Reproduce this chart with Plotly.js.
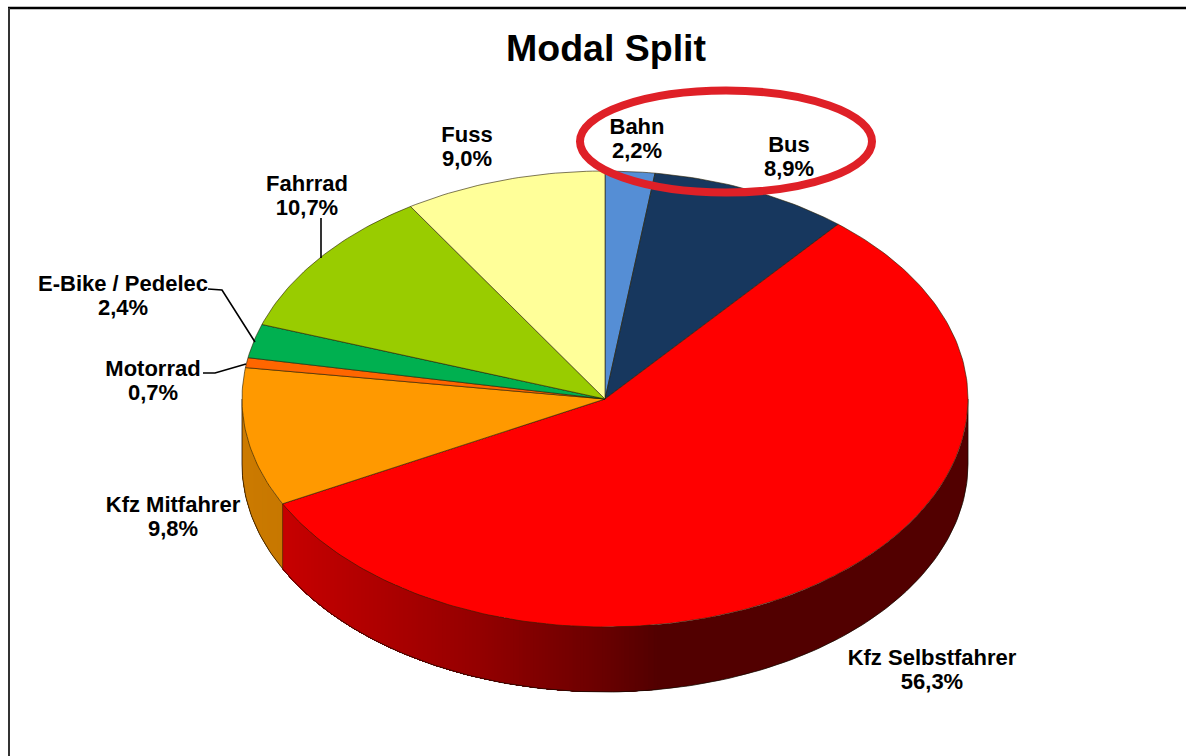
<!DOCTYPE html>
<html>
<head>
<meta charset="utf-8">
<script src="https://cdn.plot.ly/plotly-3.0.1.min.js"></script>
<style>html,body{margin:0;padding:0;background:#fff;overflow:hidden}#chart{width:1186px;height:756px}</style>
</head>
<body>
<div id="chart"></div>
<script>
// Data (clockwise from 12 o'clock)
const categories = ["Bahn","Bus","Kfz Selbstfahrer","Kfz Mitfahrer","Motorrad","E-Bike / Pedelec","Fahrrad","Fuss"];
const shares = [2.2,8.9,56.3,9.8,0.7,2.4,10.7,9.0];
const colors = ["#558ED5","#17375E","#FF0000","#FF9900","#FF6600","#00B050","#99CC00","#FFFF99"];

// Geometry of the tilted disc, in page pixels
const CX=605, CY=399, RX=363, RY=228, DEPTH=65;
const labelX=[637,789,932,173,153,123,307,467];
const labelY=[128,146,659,506,370,285,185,136];
const LINE=24;
const FONT="'Liberation Sans', Arial, sans-serif";

// axes are set so 1 unit = 1 px, y measured upward from the page bottom
const ux=p=>p, uy=p=>756-p;
const ex=t=>CX+RX*Math.sin(t), ey=(t,d=0)=>CY-RY*Math.cos(t)+d;

function rgb(hex,m){
  const n=parseInt(hex.slice(1),16);
  return `rgb(${Math.round((n>>16&255)*m)},${Math.round((n>>8&255)*m)},${Math.round((n&255)*m)})`;
}
const shadeStops=[[242,0.80],[283,0.78],[480,0.58],[600,0.42],[660,0.32],[968,0.32]];
function shade(x){
  for(let i=1;i<shadeStops.length;i++){
    const [a,ma]=shadeStops[i-1],[b,mb]=shadeStops[i];
    if(x<=b) return ma+(mb-ma)*(x-a)/(b-a);
  }
  return 0.32;
}
const traces=[], tops=[], sideEdges=[];
let acc=0;
const STEP=Math.PI/720;
categories.forEach((name,i)=>{
  const start=acc/100*2*Math.PI; acc+=shares[i]; const end=acc/100*2*Math.PI;
  // side wall: only the front half of the disc is visible
  const a=Math.max(start,Math.PI/2), b=Math.min(end,Math.PI*1.5);
  if(b>a){
    const n=Math.max(1,Math.ceil((b-a)/STEP));
    let last=null;
    for(let k=0;k<n;k++){
      const t1=a+(b-a)*k/n;
      const c=rgb(colors[i],shade(ex(t1)));
      if(c===last) continue;
      last=c;
      // each colour band runs to the end of the wall; the next band paints over it, so no seams
      const tx=[],ty=[],bx=[],by=[];
      const m=Math.max(2,Math.ceil((b-t1)/(Math.PI/180)));
      for(let j=0;j<=m;j++){
        const t=t1+(b-t1)*j/m;
        tx.push(ex(t));ty.push(ey(t));bx.push(ex(t));by.push(ey(t,DEPTH));
      }
      traces.push({type:"scatter",mode:"none",fill:"toself",fillcolor:c,hoverinfo:"skip",
        x:[...tx,...bx.reverse(),tx[0]].map(ux),
        y:[...ty,...by.reverse(),ty[0]].map(uy)});
    }
    // outline of the side wall
    const ox=[],oy=[];
    const q=Math.ceil((b-a)/(Math.PI/180));
    for(let k=0;k<=q;k++){const t=a+(b-a)*k/q;ox.push(ux(ex(t)));oy.push(uy(ey(t,DEPTH)));}
    sideEdges.push({type:"scatter",mode:"lines",line:{color:"rgba(20,10,0,0.75)",width:1},hoverinfo:"skip",x:ox,y:oy});
  }
  // top face
  const xs=[CX],ys=[CY];
  const m=Math.max(4,Math.ceil((end-start)/(Math.PI/180)));
  for(let k=0;k<=m;k++){const t=start+(end-start)*k/m;xs.push(ex(t));ys.push(ey(t));}
  xs.push(CX);ys.push(CY);
  tops.push({type:"scatter",mode:"lines",fill:"toself",fillcolor:colors[i],
    line:{color:"rgba(40,30,0,0.6)",width:1},name:name,hoverinfo:"skip",
    x:xs.map(ux),y:ys.map(uy)});
});
// seam between orange and red walls, and the left and right edges
const seamT=(shares[0]+shares[1]+shares[2])/100*2*Math.PI;
sideEdges.push({type:"scatter",mode:"lines",line:{color:"rgba(60,30,0,0.6)",width:1},hoverinfo:"skip",
  x:[ex(seamT),ex(seamT)].map(ux),y:[ey(seamT),ey(seamT,DEPTH)].map(uy)});
[Math.PI/2,Math.PI*1.5].forEach(t=>sideEdges.push({type:"scatter",mode:"lines",line:{color:"rgba(20,10,0,0.75)",width:1},hoverinfo:"skip",
  x:[ex(t),ex(t)].map(ux),y:[ey(t),ey(t,DEPTH)].map(uy)}));

const leaders=[
  [[208,222,255],[289,290,342]],
  [[203,215,246],[373,373,364]],
  [[321,321],[218,258]]
].map(([lx,ly])=>({type:"scatter",mode:"lines",line:{color:"#000",width:1.6},hoverinfo:"skip",x:lx.map(ux),y:ly.map(uy)}));

const pct=shares.map(v=>v.toFixed(1).replace(".",",")+"%");
const textFont={family:FONT,size:22,color:"#000",weight:700};
const names={type:"scatter",mode:"text",text:categories,textposition:"middle center",textfont:textFont,hoverinfo:"skip",
  x:labelX.map(ux),y:labelY.map(uy)};
const values={type:"scatter",mode:"text",text:pct,textposition:"middle center",textfont:textFont,hoverinfo:"skip",
  x:labelX.map(ux),y:labelY.map(v=>uy(v+LINE))};

const layout={
  width:1186,height:756,margin:{l:0,r:0,t:0,b:0},paper_bgcolor:"#fff",plot_bgcolor:"#fff",showlegend:false,
  title:{text:"Modal Split",font:{family:FONT,size:37.5,color:"#000",weight:700},x:606/1186,xanchor:"center",y:1-48/756,yanchor:"middle"},
  xaxis:{range:[0,1186],visible:false,fixedrange:true},
  yaxis:{range:[0,756],visible:false,fixedrange:true},
  shapes:[
    {type:"line",xref:"x",yref:"y",x0:ux(8),x1:ux(1186),y0:uy(8),y1:uy(8),line:{color:"#000",width:2.4}},
    {type:"line",xref:"x",yref:"y",x0:ux(9),x1:ux(9),y0:uy(8),y1:uy(756),line:{color:"#333",width:2}},
    {type:"circle",xref:"x",yref:"y",layer:"above",x0:ux(580),x1:ux(872),y0:uy(90.5),y1:uy(192.5),line:{color:"#DF2027",width:8}}
  ]
};
Plotly.newPlot("chart",[...traces,...sideEdges,...tops,...leaders,names,values],layout,{displayModeBar:false,staticPlot:true});
</script>
</body>
</html>
